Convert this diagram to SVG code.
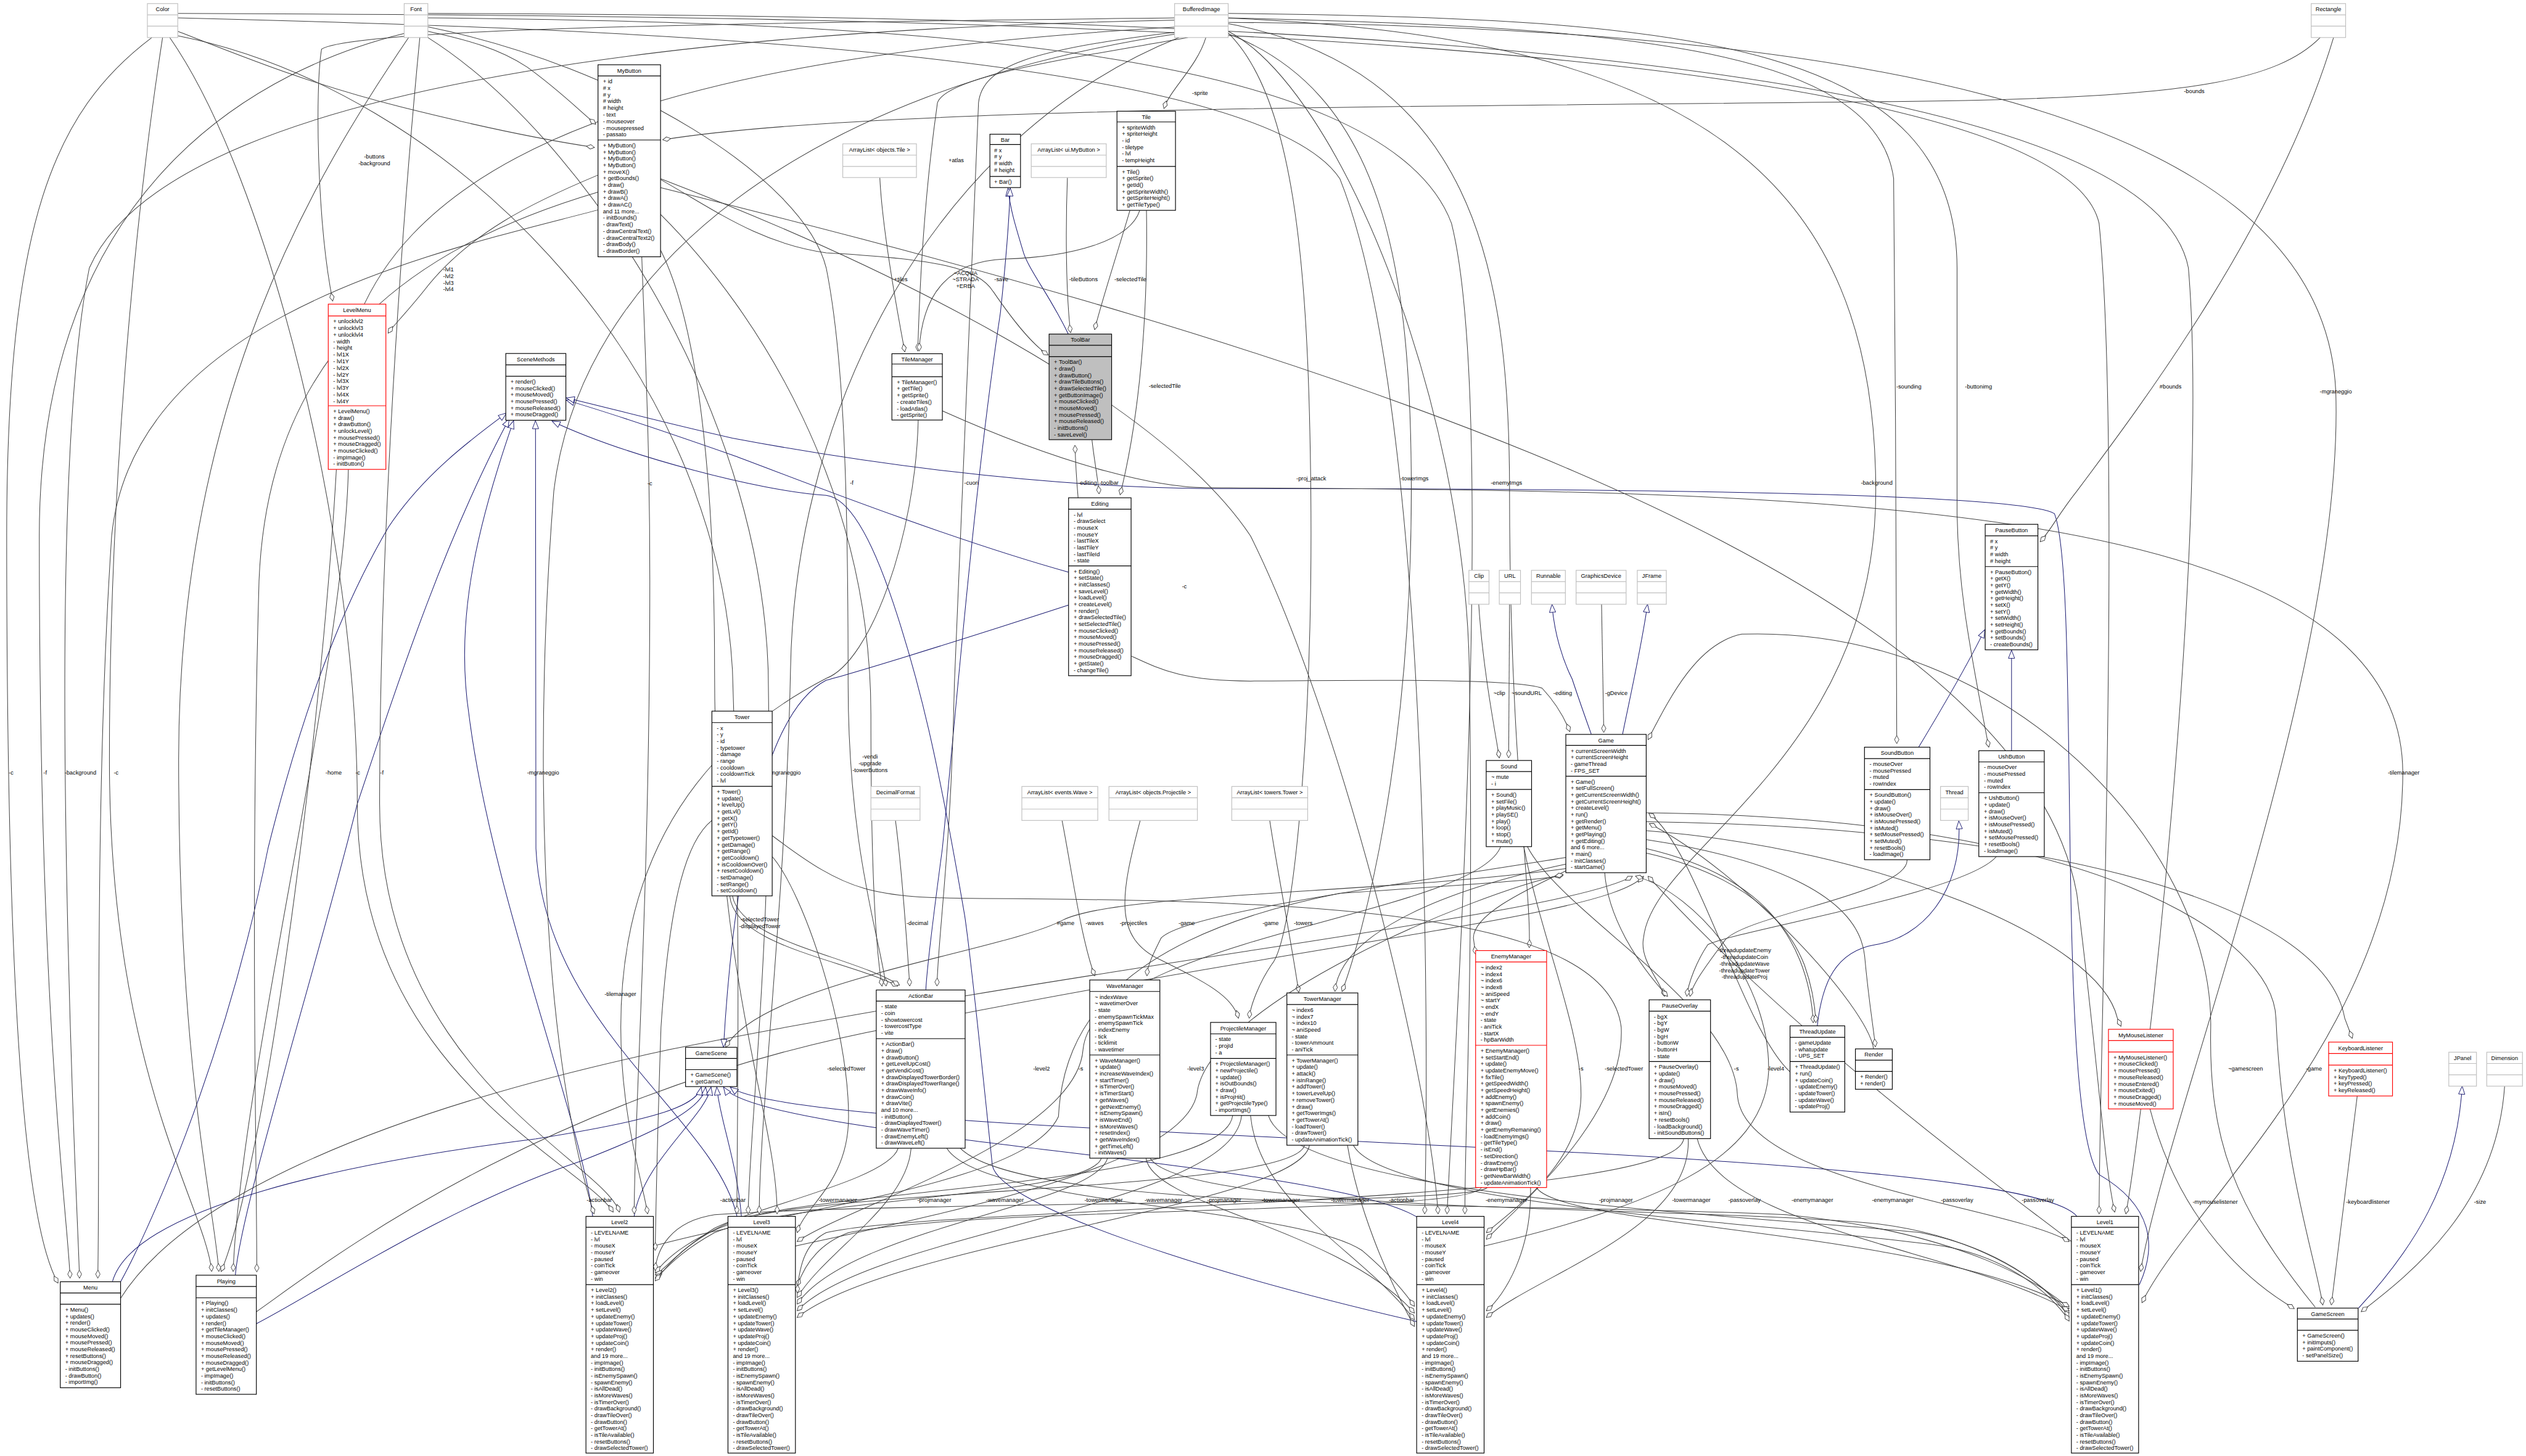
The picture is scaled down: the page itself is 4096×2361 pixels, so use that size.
<svg xmlns="http://www.w3.org/2000/svg" width="4096" height="2361" viewBox="0 0 4096 2361">
<defs>
<style>
.b{fill:#fff;stroke:#000;stroke-width:1.6}
.r{fill:#fff;stroke:#f00;stroke-width:1.6}
.g{fill:#fff;stroke:#bfbfbf;stroke-width:1.6}
.k{fill:#bfbfbf;stroke:#000;stroke-width:1.6}
.sb{stroke:#000;stroke-width:1.6;fill:none}
.sr{stroke:#f00;stroke-width:1.6;fill:none}
.sg{stroke:#bfbfbf;stroke-width:1.6;fill:none}
text{font-family:"Liberation Sans",Arial,Helvetica,sans-serif;font-size:12.8px;fill:#000}
.c{text-anchor:middle}
.e{fill:none;stroke:#404040;stroke-width:1.4;marker-end:url(#d)}
.i{fill:none;stroke:#191970;stroke-width:1.4;marker-end:url(#a)}
</style>
<marker id="d" markerUnits="userSpaceOnUse" markerWidth="20" markerHeight="12" refX="19" refY="6" orient="auto" viewBox="0 0 20 12"><path d="M1,6 L10,1 L19,6 L10,11 Z" fill="#fff" stroke="#404040" stroke-width="1.3"/></marker>
<marker id="a" markerUnits="userSpaceOnUse" markerWidth="20" markerHeight="16" refX="19" refY="8" orient="auto" viewBox="0 0 20 16"><path d="M1,1 L19,8 L1,15 Z" fill="#fff" stroke="#191970" stroke-width="1.3"/></marker>
</defs>
<rect x="0" y="0" width="4096" height="2361" fill="#fff"/>
<g transform="scale(0.7242)">
<g id="connectors">
<!-- inheritance -->
<path class="i" d="M2392,748 C2350,660 2300,600 2290,560 C2275,510 2262,470 2257,421"/>
<path class="i" d="M2073,2216 C2076,2160 2090,2050 2110,1900 C2140,1600 2180,1100 2240,700 C2255,560 2260,480 2262,421"/>
<path class="i" d="M4296,1673 C4340,1600 4400,1500 4444,1410"/>
<path class="i" d="M4504,1681 L4504,1456"/>
<path class="i" d="M4069,2297 C4080,2200 4110,2130 4200,2115 C4300,2100 4395,2000 4386,1838"/>
<path class="i" d="M3563,1644 C3540,1580 3530,1550 3520,1520 C3500,1480 3480,1420 3475,1353"/>
<path class="i" d="M3633,1644 C3650,1560 3675,1450 3689,1353"/>
<path class="i" d="M5281,2929 C5400,2800 5500,2650 5513,2432"/>
<path class="i" d="M270,2870 C320,2780 500,2400 600,1900 C700,1500 800,1300 870,1180 C950,1060 1060,980 1134,925"/>
<path class="i" d="M527,2855 C540,2700 700,2200 800,1800 C900,1500 1000,1200 1140,938"/>
<path class="i" d="M1327,2723 C1300,2500 1100,2000 1050,1600 C1020,1400 1060,1200 1150,942"/>
<path class="i" d="M1650,2723 C1600,2500 1220,2300 1200,1900 L1199,942"/>
<path class="i" d="M2392,1281 C2100,1200 1700,1040 1640,1019 C1500,970 1350,920 1268,896"/>
<path class="i" d="M3172,2959 C2700,2850 2240,2700 2222,2610 C2200,2400 2175,2150 2160,2050 C2100,1700 2060,1530 2000,1350 C1950,1200 1900,1115 1850,1109 C1700,1100 1400,1020 1236,943"/>
<path class="i" d="M4790,2877 C4830,2790 4820,2700 4700,2630 C4600,2500 4660,1300 4600,1150 C4500,1090 3000,1094 2700,1094 C2300,1090 1900,1030 1640,981 C1500,950 1350,910 1268,891"/>
<path class="i" d="M252,2869 C300,2700 800,2600 1200,2550 C1450,2510 1560,2480 1570,2434"/>
<path class="i" d="M574,2964 C700,2900 1000,2700 1300,2600 C1480,2530 1575,2480 1580,2434"/>
<path class="i" d="M1420,2723 C1440,2600 1580,2500 1592,2434"/>
<path class="i" d="M1660,2723 C1650,2600 1610,2500 1605,2434"/>
<path class="i" d="M3180,2730 C3000,2600 1700,2550 1620,2434"/>
<path class="i" d="M4650,2723 C4500,2550 1800,2560 1635,2434"/>
<path class="i" d="M2392,1355 C2100,1450 1900,1510 1850,1523 C1700,1600 1640,2000 1620,2345"/>
<!-- aggregation -->
<path class="e" d="M340,84 C120,250 15,500 15,1200 C15,2300 60,2750 130,2873"/>
<path class="e" d="M905,75 C600,150 88,400 88,1200 C88,2300 150,2700 157,2862"/>
<path class="e" d="M2640,45 C1800,60 400,150 200,600 C140,900 140,1500 150,2000 C160,2500 175,2750 178,2862"/>
<path class="e" d="M364,84 C300,500 245,1100 245,1700 C245,2400 460,2700 474,2847"/>
<path class="e" d="M915,84 C700,400 400,900 400,1700 C400,2400 480,2700 490,2847"/>
<path class="e" d="M1339,470 C1000,560 300,700 250,1200 C210,1800 225,2500 219,2862"/>
<path class="e" d="M780,1051 C770,1500 540,2400 522,2847"/>
<path class="e" d="M1339,430 C900,560 600,800 580,1300 C560,2000 575,2600 575,2848"/>
<path class="e" d="M2640,60 C1600,120 800,300 760,900 C740,1500 600,2600 495,2847"/>
<path class="e" d="M1339,392 C1200,450 1050,520 950,650 C910,700 880,730 869,746"/>
<path class="e" d="M2630,40 C1800,50 800,60 720,110 C705,200 710,500 745,674"/>
<path class="e" d="M398,70 C550,130 700,190 900,240 C1100,290 1250,318 1331,330"/>
<path class="e" d="M958,70 C1050,90 1120,110 1180,150 C1250,200 1300,250 1334,278"/>
<path class="e" d="M5195,84 C5100,180 4900,215 4400,225 C3500,240 2000,230 1484,313"/>
<path class="e" d="M5225,84 C5100,500 4800,900 4650,1100 C4610,1150 4590,1190 4568,1213"/>
<path class="e" d="M2700,84 C2680,150 2620,200 2606,243"/>
<path class="e" d="M2660,84 C2400,130 2120,170 2099,230 C2075,400 2060,600 2055,786"/>
<path class="e" d="M1970,398 C1975,500 2000,650 2026,788"/>
<path class="e" d="M2552,471 C2530,540 2400,575 2250,580 C2130,585 2065,650 2058,786"/>
<path class="e" d="M1479,402 C1600,470 1700,545 1850,566 C2100,580 2190,600 2224,653 C2270,720 2310,770 2347,795"/>
<path class="e" d="M2390,398 C2386,500 2386,650 2397,745"/>
<path class="e" d="M2530,471 C2510,540 2465,680 2451,738"/>
<path class="e" d="M2567,471 C2570,650 2560,900 2508,1108"/>
<path class="e" d="M2445,985 C2450,1030 2458,1070 2461,1106"/>
<path class="e" d="M2414,1115 C2410,1070 2408,1030 2407,997"/>
<path class="e" d="M3311,1353 C3320,1500 3350,1650 3357,1697"/>
<path class="e" d="M3380,1353 L3378,1697"/>
<path class="e" d="M3586,1353 L3591,1640"/>
<path class="e" d="M2533,1469 C2600,1500 2650,1525 2800,1525 C3100,1522 3400,1520 3453,1541 C3480,1570 3500,1600 3515,1638"/>
<path class="e" d="M958,60 C1400,150 1800,400 1850,600 C1890,800 1899,1100 1899,1530 C1899,1900 1970,2100 1984,2208"/>
<path class="e" d="M2650,70 C2300,110 2200,150 2191,230 C2170,800 2145,1300 2137,1530 C2130,1900 2100,2100 2098,2208"/>
<path class="e" d="M1634,2006 C1645,2120 1900,2150 2010,2208"/>
<path class="e" d="M1640,2006 C1660,2110 1910,2140 2014,2206"/>
<path class="e" d="M2005,1837 C2020,1950 2030,2100 2037,2208"/>
<path class="e" d="M1479,480 C1700,700 1950,1100 1950,1600 C1950,2000 1965,2150 1975,2208"/>
<path class="e" d="M2378,1837 C2400,1950 2420,2100 2451,2185"/>
<path class="e" d="M3506,1920 C3000,2000 2650,2050 2600,2100 C2580,2140 2570,2160 2568,2185"/>
<path class="e" d="M3506,1945 C3100,2000 2500,2000 2380,2060 C2250,2130 1700,2200 1625,2345"/>
<path class="e" d="M2553,1837 C2510,2000 2490,2100 2600,2150 C2700,2200 2760,2230 2773,2280"/>
<path class="e" d="M2735,60 C2900,200 2930,600 2935,1100 C2940,1600 2900,2100 2847,2160 C2820,2200 2800,2250 2797,2280"/>
<path class="e" d="M2843,1837 C2860,1950 2890,2100 2908,2222"/>
<path class="e" d="M3506,1935 C3200,2000 3000,2100 2989,2220"/>
<path class="e" d="M2735,70 C3100,200 3160,600 3160,1100 C3160,1700 3050,2100 3005,2220"/>
<path class="e" d="M2735,50 C3300,150 3380,600 3380,1100 C3380,1700 3430,2000 3424,2122"/>
<path class="e" d="M3506,1950 C3400,2000 3300,2050 3299,2100 L3304,2137"/>
<path class="e" d="M2735,40 C3800,80 4200,400 4200,1100 C4200,1700 3700,1900 3680,2100 C3670,2150 3720,2200 3727,2231"/>
<path class="e" d="M3593,1954 C3600,2050 3660,2150 3734,2231"/>
<path class="e" d="M4270,1925 C4275,2000 3900,2050 3861,2107 C3830,2150 3790,2200 3784,2231"/>
<path class="e" d="M4470,1918 C4400,2000 3900,2080 3824,2115 C3800,2150 3780,2200 3777,2231"/>
<path class="e" d="M2750,40 C3600,60 4200,100 4240,400 C4245,800 4245,1300 4247,1665"/>
<path class="e" d="M2750,30 C3800,40 4380,100 4382,600 L4382,1150 C4385,1300 4400,1400 4453,1673"/>
<path class="e" d="M3686,1900 C3900,1950 3990,2050 4030,2150 C4050,2200 4058,2250 4060,2290"/>
<path class="e" d="M3686,1910 C3905,1960 4000,2060 4040,2160 C4058,2210 4064,2250 4066,2290"/>
<path class="e" d="M3686,1880 C3950,1920 4160,2000 4175,2140 C4185,2250 4195,2300 4199,2344"/>
<path class="e" d="M3686,1860 C4200,1900 4700,2100 4741,2280 L4749,2298"/>
<path class="e" d="M3686,1840 C4500,1850 5200,2000 5250,2280 L5267,2325"/>
<path class="e" d="M3686,1820 C4700,1830 5090,2100 5096,2280 C5110,2600 5180,2800 5201,2922"/>
<path class="e" d="M4814,2483 C4870,2700 5000,2850 5137,2930"/>
<path class="e" d="M5278,2454 L5220,2922"/>
<path class="e" d="M5608,2432 C5590,2700 5400,2850 5287,2937"/>
<path class="e" d="M5184,2927 C5000,2700 4945,2550 4950,2300 C4955,1900 4500,1400 3900,1420 C3800,1440 3740,1560 3690,1656"/>
<path class="e" d="M4008,2400 C3900,2300 3800,1900 3692,1821"/>
<path class="e" d="M4195,2348 C4180,2250 3900,1950 3693,1844"/>
<path class="e" d="M270,2907 C400,2700 800,2500 1500,2350 C2500,2150 3500,2050 3655,1962"/>
<path class="e" d="M574,2937 C700,2850 1200,2450 2000,2300 C3000,2100 3600,2050 3680,1962"/>
<path class="e" d="M1463,2790 C1800,2700 2300,2650 2370,2500 C2380,2300 2500,2100 3000,2000 C3300,1980 3450,1970 3500,1960"/>
<path class="e" d="M1781,2790 C2200,2700 2650,2600 2680,2450 C2700,2250 3300,2000 3500,1958"/>
<path class="e" d="M3323,2790 C3700,2700 3950,2600 3960,2400 C3965,2200 3800,2000 3662,1962"/>
<path class="e" d="M4638,2780 C4400,2600 4000,2300 3690,1962"/>
<path class="e" d="M3412,1896 C3450,2100 3540,2300 3540,2450 C3540,2600 3400,2700 3328,2760"/>
<path class="e" d="M3420,1896 C3500,2050 3880,2250 3890,2450 C3900,2650 4500,2700 4633,2780"/>
<path class="e" d="M3360,1896 C3300,2050 2450,2100 2425,2350 C2410,2550 1900,2700 1785,2780"/>
<path class="e" d="M1729,1918 C1800,2000 1900,2300 1900,2500 C1900,2650 1800,2700 1785,2760"/>
<path class="e" d="M1729,1871 C1900,2000 1950,2010 2200,2012 C3000,2015 3600,2050 3630,2300 C3640,2500 3400,2700 3328,2775"/>
<path class="e" d="M1594,1837 C1540,1880 1500,2000 1480,2300 C1470,2600 1468,2750 1467,2800"/>
<path class="e" d="M2011,2571 C1990,2640 1700,2700 1600,2750 C1520,2800 1490,2840 1467,2855"/>
<path class="e" d="M2040,2571 C2030,2700 1850,2800 1785,2905"/>
<path class="e" d="M2120,2571 C2200,2700 2900,2700 3050,2800 C3120,2860 3150,2900 3167,2925"/>
<path class="e" d="M2150,2571 C2300,2720 3400,2690 4000,2720 C4400,2760 4580,2880 4633,2930"/>
<path class="e" d="M2466,2593 C2440,2680 1800,2680 1600,2760 C1510,2810 1485,2850 1467,2862"/>
<path class="e" d="M2480,2593 C2450,2700 1900,2750 1785,2920"/>
<path class="e" d="M2566,2593 C2580,2700 3000,2750 3167,2940"/>
<path class="e" d="M2575,2593 C2650,2720 3800,2700 4200,2740 C4450,2770 4580,2880 4633,2940"/>
<path class="e" d="M2760,2498 C2740,2650 1900,2660 1650,2730 C1530,2780 1490,2840 1467,2868"/>
<path class="e" d="M2780,2498 C2760,2700 1950,2760 1785,2935"/>
<path class="e" d="M2800,2498 C2820,2700 3050,2800 3167,2955"/>
<path class="e" d="M2840,2498 C2900,2680 3900,2720 4300,2760 C4500,2800 4600,2900 4633,2950"/>
<path class="e" d="M2921,2564 C2900,2660 2000,2660 1700,2720 C1550,2760 1490,2820 1467,2850"/>
<path class="e" d="M2932,2564 C2910,2700 2000,2780 1785,2950"/>
<path class="e" d="M3017,2564 C3040,2700 3100,2850 3167,2970"/>
<path class="e" d="M3030,2564 C3100,2700 4000,2740 4350,2790 C4520,2820 4610,2920 4633,2958"/>
<path class="e" d="M3317,2659 C3290,2720 2200,2700 1900,2760 C1820,2790 1795,2850 1785,2880"/>
<path class="e" d="M3330,2659 C3300,2700 2000,2690 1600,2720 C1500,2735 1470,2800 1467,2845"/>
<path class="e" d="M3427,2659 C3430,2800 3370,2900 3328,2935"/>
<path class="e" d="M3440,2659 C3500,2750 4300,2750 4633,2925"/>
<path class="e" d="M3780,2549 C3790,2750 3450,2850 3328,2950"/>
<path class="e" d="M3800,2549 C3850,2750 4400,2800 4633,2935"/>
<path class="e" d="M3770,2549 C3760,2700 2100,2700 1850,2760 C1810,2780 1790,2820 1785,2895"/>
<path class="e" d="M380,84 C600,400 800,1200 800,1800 C800,2400 1300,2600 1373,2714"/>
<path class="e" d="M940,84 C900,500 850,1200 850,1800 C850,2400 1350,2600 1387,2714"/>
<path class="e" d="M2640,75 C1800,200 1300,600 1240,1100 C1200,1600 1200,2300 1330,2718"/>
<path class="e" d="M2640,84 C2100,300 1780,900 1770,1500 C1760,2000 1700,2500 1700,2718"/>
<path class="e" d="M398,80 C1000,200 1600,800 1640,1500 C1660,2100 1650,2500 1650,2718"/>
<path class="e" d="M958,84 C1300,300 1700,900 1720,1500 C1730,2100 1680,2500 1675,2718"/>
<path class="e" d="M1437,575 C1445,800 1455,1000 1455,1300 C1455,2000 1420,2500 1420,2718"/>
<path class="e" d="M1479,560 C1550,700 1600,1000 1600,1500 C1600,2200 1740,2500 1740,2718"/>
<path class="e" d="M1479,400 C2000,600 2600,900 2800,1200 C3000,1600 3200,2400 3220,2718"/>
<path class="e" d="M1479,420 C2600,700 4500,1200 4650,2000 C4700,2400 4710,2600 4735,2714"/>
<path class="e" d="M398,40 C1200,60 2800,100 3000,400 C3200,900 3200,2300 3190,2718"/>
<path class="e" d="M958,40 C2000,50 3100,100 3250,500 C3350,900 3260,2300 3240,2718"/>
<path class="e" d="M2750,70 C3000,200 3280,900 3290,1500 C3300,2200 3280,2500 3280,2718"/>
<path class="e" d="M398,30 C2000,35 4600,60 4700,500 C4750,1000 4700,2400 4700,2718"/>
<path class="e" d="M958,30 C2500,35 4800,80 4900,600 C4950,1200 4800,2500 4760,2718"/>
<path class="e" d="M2750,50 C4000,60 5200,200 5230,877 C5250,1500 4850,2500 4793,2847"/>
<path class="e" d="M2110,920 C2400,1050 2600,1092 2700,1092 C4000,1100 5380,1100 5380,1731 C5380,2300 4900,2700 4796,2917"/>
<path class="e" d="M2056,940 C2050,1200 1950,1480 1850,1519 C1500,1700 1390,2000 1390,2300 C1390,2500 1440,2650 1450,2718"/>
<!-- edge labels -->
<text class="c" x="838" y="355">-buttons</text><text class="c" x="838" y="370">-background</text>
<text class="c" x="1004" y="608">-lvl1</text><text class="c" x="1004" y="623">-lvl2</text><text class="c" x="1004" y="638">-lvl3</text><text class="c" x="1004" y="652">-lvl4</text>
<text class="c" x="1455" y="1087">-c</text>
<text class="c" x="2141" y="363">+atlas</text>
<text class="c" x="2017" y="630">+tiles</text>
<text class="c" x="2162" y="616">~ACQUA</text><text class="c" x="2162" y="630">~STRADA</text><text class="c" x="2162" y="645">+ERBA</text>
<text class="c" x="2242" y="630">-save</text>
<text class="c" x="2426" y="630">-tileButtons</text>
<text class="c" x="2531" y="630">-selectedTile</text>
<text class="c" x="2608" y="869">-selectedTile</text>
<text class="c" x="1907" y="1086">-f</text>
<text class="c" x="2175" y="1086">-cuori</text>
<text class="c" x="2435" y="1086">-editing</text>
<text class="c" x="2483" y="1086">-toolbar</text>
<text class="c" x="2652" y="1318">-c</text>
<text class="c" x="3357" y="1556">~clip</text>
<text class="c" x="3418" y="1556">~soundURL</text>
<text class="c" x="3499" y="1556">-editing</text>
<text class="c" x="3619" y="1556">-gDevice</text>
<text class="c" x="1701" y="2063">-selectedTower</text><text class="c" x="1701" y="2078">-displayedTower</text>
<text class="c" x="2054" y="2071">-decimal</text>
<text class="c" x="2386" y="2071">#game</text>
<text class="c" x="2451" y="2071">-waves</text>
<text class="c" x="2538" y="2071">-projectiles</text>
<text class="c" x="2657" y="2071">-game</text>
<text class="c" x="2845" y="2071">-game</text>
<text class="c" x="2918" y="2071">-towers</text>
<text class="c" x="1895" y="2397">-selectedTower</text>
<text class="c" x="2332" y="2397">-level2</text>
<text class="c" x="2420" y="2397">-s</text>
<text class="c" x="2677" y="2397">-level3</text>
<text class="c" x="3540" y="2397">-s</text>
<text class="c" x="3636" y="2397">-selectedTower</text>
<text class="c" x="3888" y="2397">-s</text>
<text class="c" x="3976" y="2397">-level4</text>
<text class="c" x="5028" y="2397">~gamescreen</text>
<text class="c" x="5181" y="2397">-game</text>
<text class="c" x="4960" y="2695">-mymouselistener</text>
<text class="c" x="5302" y="2695">-keyboardlistener</text>
<text class="c" x="5553" y="2695">-size</text>
<text class="c" x="25" y="1735">-c</text>
<text class="c" x="101" y="1735">-f</text>
<text class="c" x="180" y="1735">-background</text>
<text class="c" x="260" y="1735">-c</text>
<text class="c" x="747" y="1735">-home</text>
<text class="c" x="801" y="1735">-c</text>
<text class="c" x="855" y="1735">-f</text>
<text class="c" x="1216" y="1735">-mgraneggio</text>
<text class="c" x="1757" y="1735">-mgraneggio</text>
<text class="c" x="1948" y="1699">-vendi</text><text class="c" x="1948" y="1714">-upgrade</text><text class="c" x="1948" y="1729">-towerButtons</text>
<text class="c" x="1389" y="2230">-tilemanager</text>
<text class="c" x="2936" y="1075">-proj_attack</text>
<text class="c" x="3167" y="1075">-towerImgs</text>
<text class="c" x="3373" y="1086">-enemyImgs</text>
<text class="c" x="4202" y="1086">-background</text>
<text class="c" x="4274" y="870">-sounding</text>
<text class="c" x="4430" y="870">-buttonimg</text>
<text class="c" x="4860" y="870">#bounds</text>
<text class="c" x="4913" y="209">-bounds</text>
<text class="c" x="2687" y="213">-sprite</text>
<text class="c" x="5230" y="881">-mgraneggio</text>
<text class="c" x="5382" y="1735">-tilemanager</text>
<text class="c" x="3906" y="2132">-threadupdateEnemy</text><text class="c" x="3906" y="2147">-threadupdateCoin</text><text class="c" x="3906" y="2162">-threadupdateWave</text><text class="c" x="3906" y="2177">-threadupdateTower</text><text class="c" x="3906" y="2192">-threadupdateProj</text>
<text class="c" x="1342" y="2691">-actionbar</text>
<text class="c" x="1641" y="2691">-actionbar</text>
<text class="c" x="1876" y="2691">-towermanager</text>
<text class="c" x="2092" y="2691">-projmanager</text>
<text class="c" x="2250" y="2691">-wavemanager</text>
<text class="c" x="2471" y="2691">-towermanager</text>
<text class="c" x="2605" y="2691">-wavemanager</text>
<text class="c" x="2741" y="2691">-projmanager</text>
<text class="c" x="2868" y="2691">-towermanager</text>
<text class="c" x="3023" y="2691">-towermanager</text>
<text class="c" x="3138" y="2691">-actionbar</text>
<text class="c" x="3373" y="2691">-enemymanager</text>
<text class="c" x="3618" y="2691">-projmanager</text>
<text class="c" x="3787" y="2691">-towermanager</text>
<text class="c" x="3906" y="2691">-passoverlay</text>
<text class="c" x="4058" y="2691">-enemymanager</text>
<text class="c" x="4238" y="2691">-enemymanager</text>
<text class="c" x="4382" y="2691">-passoverlay</text>
<text class="c" x="4563" y="2691">-passoverlay</text>
</g>

<!-- external classes -->
<g id="Color"><rect class="g" x="330" y="8" width="68" height="76"/><path class="sg" d="M330,33.3H398M330,58.6H398"/><text class="c" x="364" y="25.5">Color</text></g>
<g id="Font"><rect class="g" x="905" y="8" width="53" height="76"/><path class="sg" d="M905,33.3H958M905,58.6H958"/><text class="c" x="931.5" y="25.5">Font</text></g>
<g id="BufferedImage"><rect class="g" x="2630" y="8" width="120" height="76"/><path class="sg" d="M2630,33.3H2750M2630,58.6H2750"/><text class="c" x="2690" y="25.5">BufferedImage</text></g>
<g id="Rectangle"><rect class="g" x="5175" y="8" width="77" height="76"/><path class="sg" d="M5175,33.3H5252M5175,58.6H5252"/><text class="c" x="5213.5" y="25.5">Rectangle</text></g>
<g id="ArrayListTile"><rect class="g" x="1887" y="322" width="165" height="75.5"/><path class="sg" d="M1887,347.3H2052M1887,372.6H2052"/><text class="c" x="1969.5" y="339.5">ArrayList&lt; objects.Tile &gt;</text></g>
<g id="ArrayListMyButton"><rect class="g" x="2309" y="322" width="168" height="75.5"/><path class="sg" d="M2309,347.3H2477M2309,372.6H2477"/><text class="c" x="2393" y="339.5">ArrayList&lt; ui.MyButton &gt;</text></g>
<g id="Clip"><rect class="g" x="3289" y="1277" width="45" height="76"/><path class="sg" d="M3289,1302.3H3334M3289,1327.6H3334"/><text class="c" x="3311.5" y="1294.5">Clip</text></g>
<g id="URL"><rect class="g" x="3357" y="1277" width="47.5" height="76"/><path class="sg" d="M3357,1302.3H3404.5M3357,1327.6H3404.5"/><text class="c" x="3380.7" y="1294.5">URL</text></g>
<g id="Runnable"><rect class="g" x="3429" y="1277" width="76" height="76"/><path class="sg" d="M3429,1302.3H3505M3429,1327.6H3505"/><text class="c" x="3467" y="1294.5">Runnable</text></g>
<g id="GraphicsDevice"><rect class="g" x="3529" y="1277" width="112" height="76"/><path class="sg" d="M3529,1302.3H3641M3529,1327.6H3641"/><text class="c" x="3585" y="1294.5">GraphicsDevice</text></g>
<g id="JFrame"><rect class="g" x="3666" y="1277" width="65" height="76"/><path class="sg" d="M3666,1302.3H3731M3666,1327.6H3731"/><text class="c" x="3698.5" y="1294.5">JFrame</text></g>
<g id="DecimalFormat"><rect class="g" x="1950" y="1761" width="110" height="76"/><path class="sg" d="M1950,1786.3H2060M1950,1811.6H2060"/><text class="c" x="2005" y="1778.5">DecimalFormat</text></g>
<g id="ArrayListWave"><rect class="g" x="2288" y="1761" width="170" height="76"/><path class="sg" d="M2288,1786.3H2458M2288,1811.6H2458"/><text class="c" x="2373" y="1778.5">ArrayList&lt; events.Wave &gt;</text></g>
<g id="ArrayListProjectile"><rect class="g" x="2483" y="1761" width="198" height="76"/><path class="sg" d="M2483,1786.3H2681M2483,1811.6H2681"/><text class="c" x="2582" y="1778.5">ArrayList&lt; objects.Projectile &gt;</text></g>
<g id="ArrayListTower"><rect class="g" x="2758" y="1761" width="170" height="76"/><path class="sg" d="M2758,1786.3H2928M2758,1811.6H2928"/><text class="c" x="2843" y="1778.5">ArrayList&lt; towers.Tower &gt;</text></g>
<g id="Thread"><rect class="g" x="4345" y="1761" width="62" height="76"/><path class="sg" d="M4345,1786.3H4407M4345,1811.6H4407"/><text class="c" x="4376" y="1778.5">Thread</text></g>
<g id="JPanel"><rect class="g" x="5483" y="2356" width="62" height="76"/><path class="sg" d="M5483,2381.3H5545M5483,2406.6H5545"/><text class="c" x="5514" y="2373.5">JPanel</text></g>
<g id="Dimension"><rect class="g" x="5568" y="2356" width="80" height="76"/><path class="sg" d="M5568,2381.3H5648M5568,2406.6H5648"/><text class="c" x="5608" y="2373.5">Dimension</text></g>

<!-- classes -->
<g id="MyButton"><rect class="b" x="1339" y="145" width="140" height="430"/><path class="sb" d="M1339,170H1479M1339,313.5H1479"/><text class="c" x="1409" y="162.5">MyButton</text>
<text x="1350" y="186.5"><tspan x="1350">+ id</tspan><tspan x="1350" dy="14.9"># x</tspan><tspan x="1350" dy="14.9"># y</tspan><tspan x="1350" dy="14.9"># width</tspan><tspan x="1350" dy="14.9"># height</tspan><tspan x="1350" dy="14.9">- text</tspan><tspan x="1350" dy="14.9">- mouseover</tspan><tspan x="1350" dy="14.9">- mousepressed</tspan><tspan x="1350" dy="14.9">- passato</tspan></text>
<text x="1350" y="330"><tspan x="1350">+ MyButton()</tspan><tspan x="1350" dy="14.75">+ MyButton()</tspan><tspan x="1350" dy="14.75">+ MyButton()</tspan><tspan x="1350" dy="14.75">+ MyButton()</tspan><tspan x="1350" dy="14.75">+ moveX()</tspan><tspan x="1350" dy="14.75">+ getBounds()</tspan><tspan x="1350" dy="14.75">+ draw()</tspan><tspan x="1350" dy="14.75">+ drawB()</tspan><tspan x="1350" dy="14.75">+ drawA()</tspan><tspan x="1350" dy="14.75">+ drawAC()</tspan><tspan x="1350" dy="14.75">and 11 more...</tspan><tspan x="1350" dy="14.75">- initBounds()</tspan><tspan x="1350" dy="14.75">- drawText()</tspan><tspan x="1350" dy="14.75">- drawCentralText()</tspan><tspan x="1350" dy="14.75">- drawCentralText2()</tspan><tspan x="1350" dy="14.75">- drawBody()</tspan><tspan x="1350" dy="14.75">- drawBorder()</tspan></text></g>

<g id="LevelMenu"><rect class="r" x="735" y="681" width="129" height="370"/><path class="sr" d="M735,707.5H864M735,908.6H864"/><text class="c" x="799.5" y="698.5">LevelMenu</text>
<text x="746" y="724"><tspan x="746">+ unlocklvl2</tspan><tspan x="746" dy="14.9">+ unlocklvl3</tspan><tspan x="746" dy="14.9">+ unlocklvl4</tspan><tspan x="746" dy="14.9">- width</tspan><tspan x="746" dy="14.9">- height</tspan><tspan x="746" dy="14.9">- lvl1X</tspan><tspan x="746" dy="14.9">- lvl1Y</tspan><tspan x="746" dy="14.9">- lvl2X</tspan><tspan x="746" dy="14.9">- lvl2Y</tspan><tspan x="746" dy="14.9">- lvl3X</tspan><tspan x="746" dy="14.9">- lvl3Y</tspan><tspan x="746" dy="14.9">- lvl4X</tspan><tspan x="746" dy="14.9">- lvl4Y</tspan></text>
<text x="746" y="925"><tspan x="746">+ LevelMenu()</tspan><tspan x="746" dy="14.75">+ draw()</tspan><tspan x="746" dy="14.75">+ drawButton()</tspan><tspan x="746" dy="14.75">+ unlockLevel()</tspan><tspan x="746" dy="14.75">+ mousePressed()</tspan><tspan x="746" dy="14.75">+ mouseDragged()</tspan><tspan x="746" dy="14.75">+ mouseClicked()</tspan><tspan x="746" dy="14.75">- impImage()</tspan><tspan x="746" dy="14.75">- initButton()</tspan></text></g>

<g id="SceneMethods"><rect class="b" x="1132.5" y="791.5" width="134.5" height="149.5"/><path class="sb" d="M1132.5,817H1267M1132.5,842.5H1267"/><text class="c" x="1199.75" y="809">SceneMethods</text>
<text x="1143" y="859"><tspan x="1143">+ render()</tspan><tspan x="1143" dy="14.75">+ mouseClicked()</tspan><tspan x="1143" dy="14.75">+ mouseMoved()</tspan><tspan x="1143" dy="14.75">+ mousePressed()</tspan><tspan x="1143" dy="14.75">+ mouseReleased()</tspan><tspan x="1143" dy="14.75">+ mouseDragged()</tspan></text></g>

<g id="Bar"><rect class="b" x="2216.5" y="300.5" width="68.5" height="119.5"/><path class="sb" d="M2216.5,323.7H2285M2216.5,395H2285"/><text class="c" x="2250.75" y="318">Bar</text>
<text x="2226" y="340.5"><tspan x="2226"># x</tspan><tspan x="2226" dy="14.9"># y</tspan><tspan x="2226" dy="14.9"># width</tspan><tspan x="2226" dy="14.9"># height</tspan></text>
<text x="2226" y="411.5">+ Bar()</text></g>

<g id="Tile"><rect class="b" x="2501" y="249" width="131" height="222"/><path class="sb" d="M2501,273H2632M2501,372.6H2632"/><text class="c" x="2566.5" y="266.5">Tile</text>
<text x="2512" y="289.5"><tspan x="2512">+ spriteWidth</tspan><tspan x="2512" dy="14.75">+ spriteHeight</tspan><tspan x="2512" dy="14.75">- id</tspan><tspan x="2512" dy="14.75">- tiletype</tspan><tspan x="2512" dy="14.75">- lvl</tspan><tspan x="2512" dy="14.75">- tempHeight</tspan></text>
<text x="2512" y="389"><tspan x="2512">+ Tile()</tspan><tspan x="2512" dy="14.75">+ getSprite()</tspan><tspan x="2512" dy="14.75">+ getId()</tspan><tspan x="2512" dy="14.75">+ getSpriteWidth()</tspan><tspan x="2512" dy="14.75">+ getSpriteHeight()</tspan><tspan x="2512" dy="14.75">+ getTileType()</tspan></text></g>

<g id="ToolBar"><rect class="k" x="2349" y="748" width="140" height="236.5"/><path class="sb" d="M2349,773H2489M2349,798.7H2489"/><text class="c" x="2419" y="765.5">ToolBar</text>
<text x="2360" y="815"><tspan x="2360">+ ToolBar()</tspan><tspan x="2360" dy="14.75">+ draw()</tspan><tspan x="2360" dy="14.75">+ drawButton()</tspan><tspan x="2360" dy="14.75">+ drawTileButtons()</tspan><tspan x="2360" dy="14.75">+ drawSelectedTile()</tspan><tspan x="2360" dy="14.75">+ getButtonImage()</tspan><tspan x="2360" dy="14.75">+ mouseClicked()</tspan><tspan x="2360" dy="14.75">+ mouseMoved()</tspan><tspan x="2360" dy="14.75">+ mousePressed()</tspan><tspan x="2360" dy="14.75">+ mouseReleased()</tspan><tspan x="2360" dy="14.75">- initButtons()</tspan><tspan x="2360" dy="14.75">- saveLevel()</tspan></text></g>

<g id="TileManager"><rect class="b" x="1997" y="792" width="113" height="148.5"/><path class="sb" d="M1997,815H2110M1997,843.5H2110"/><text class="c" x="2053.5" y="808.5">TileManager</text>
<text x="2008" y="860"><tspan x="2008">+ TileManager()</tspan><tspan x="2008" dy="14.75">+ getTile()</tspan><tspan x="2008" dy="14.75">+ getSprite()</tspan><tspan x="2008" dy="14.75">- createTiles()</tspan><tspan x="2008" dy="14.75">- loadAtlas()</tspan><tspan x="2008" dy="14.75">- getSprite()</tspan></text></g>

<g id="Editing"><rect class="b" x="2392.6" y="1114.6" width="140" height="398.4"/><path class="sb" d="M2392.6,1140H2532.6M2392.6,1267H2532.6"/><text class="c" x="2462.6" y="1132">Editing</text>
<text x="2404" y="1156.5"><tspan x="2404">- lvl</tspan><tspan x="2404" dy="14.75">- drawSelect</tspan><tspan x="2404" dy="14.75">- mouseX</tspan><tspan x="2404" dy="14.75">- mouseY</tspan><tspan x="2404" dy="14.75">- lastTileX</tspan><tspan x="2404" dy="14.75">- lastTileY</tspan><tspan x="2404" dy="14.75">- lastTileId</tspan><tspan x="2404" dy="14.75">- state</tspan></text>
<text x="2404" y="1283.5"><tspan x="2404">+ Editing()</tspan><tspan x="2404" dy="14.75">+ setState()</tspan><tspan x="2404" dy="14.75">+ initClasses()</tspan><tspan x="2404" dy="14.75">+ saveLevel()</tspan><tspan x="2404" dy="14.75">+ loadLevel()</tspan><tspan x="2404" dy="14.75">+ createLevel()</tspan><tspan x="2404" dy="14.75">+ render()</tspan><tspan x="2404" dy="14.75">+ drawSelectedTile()</tspan><tspan x="2404" dy="14.75">+ setSelectedTile()</tspan><tspan x="2404" dy="14.75">+ mouseClicked()</tspan><tspan x="2404" dy="14.75">+ mouseMoved()</tspan><tspan x="2404" dy="14.75">+ mousePressed()</tspan><tspan x="2404" dy="14.75">+ mouseReleased()</tspan><tspan x="2404" dy="14.75">+ mouseDragged()</tspan><tspan x="2404" dy="14.75">+ getState()</tspan><tspan x="2404" dy="14.75">- changeTile()</tspan></text></g>

<g id="PauseButton"><rect class="b" x="4445" y="1174" width="118" height="281"/><path class="sb" d="M4445,1199.7H4563M4445,1268.7H4563"/><text class="c" x="4504" y="1191.5">PauseButton</text>
<text x="4456" y="1216"><tspan x="4456"># x</tspan><tspan x="4456" dy="14.75"># y</tspan><tspan x="4456" dy="14.75"># width</tspan><tspan x="4456" dy="14.75"># height</tspan></text>
<text x="4456" y="1285"><tspan x="4456">+ PauseButton()</tspan><tspan x="4456" dy="14.75">+ getX()</tspan><tspan x="4456" dy="14.75">+ getY()</tspan><tspan x="4456" dy="14.75">+ getWidth()</tspan><tspan x="4456" dy="14.75">+ getHeight()</tspan><tspan x="4456" dy="14.75">+ setX()</tspan><tspan x="4456" dy="14.75">+ setY()</tspan><tspan x="4456" dy="14.75">+ setWidth()</tspan><tspan x="4456" dy="14.75">+ setHeight()</tspan><tspan x="4456" dy="14.75">+ getBounds()</tspan><tspan x="4456" dy="14.75">+ setBounds()</tspan><tspan x="4456" dy="14.75">- createBounds()</tspan></text></g>

<g id="Sound"><rect class="b" x="3327.7" y="1702.8" width="101.6" height="192.9"/><path class="sb" d="M3327.7,1727.7H3429.3M3327.7,1767.6H3429.3"/><text class="c" x="3378.5" y="1720.3">Sound</text>
<text x="3339" y="1744"><tspan x="3339">~ mute</tspan><tspan x="3339" dy="14.75">- i</tspan></text>
<text x="3339" y="1784"><tspan x="3339">+ Sound()</tspan><tspan x="3339" dy="14.75">+ setFile()</tspan><tspan x="3339" dy="14.75">+ playMusic()</tspan><tspan x="3339" dy="14.75">+ playSE()</tspan><tspan x="3339" dy="14.75">+ play()</tspan><tspan x="3339" dy="14.75">+ loop()</tspan><tspan x="3339" dy="14.75">+ stop()</tspan><tspan x="3339" dy="14.75">+ mute()</tspan></text></g>

<g id="Game"><rect class="b" x="3506" y="1644.4" width="180" height="309.7"/><path class="sb" d="M3506,1668.9H3686M3506,1738H3686"/><text class="c" x="3596" y="1662">Game</text>
<text x="3517" y="1685.4"><tspan x="3517">+ currentScreenWidth</tspan><tspan x="3517" dy="14.75">+ currentScreenHeight</tspan><tspan x="3517" dy="14.75">- gameThread</tspan><tspan x="3517" dy="14.75">- FPS_SET</tspan></text>
<text x="3517" y="1754.5"><tspan x="3517">+ Game()</tspan><tspan x="3517" dy="14.75">+ setFullScreen()</tspan><tspan x="3517" dy="14.75">+ getCurrentScreenWidth()</tspan><tspan x="3517" dy="14.75">+ getCurrentScreenHeight()</tspan><tspan x="3517" dy="14.75">+ createLevel()</tspan><tspan x="3517" dy="14.75">+ run()</tspan><tspan x="3517" dy="14.75">+ getRender()</tspan><tspan x="3517" dy="14.75">+ getMenu()</tspan><tspan x="3517" dy="14.75">+ getPlaying()</tspan><tspan x="3517" dy="14.75">+ getEditing()</tspan><tspan x="3517" dy="14.75">and 6 more...</tspan><tspan x="3517" dy="14.75">+ main()</tspan><tspan x="3517" dy="14.75">- InitClasses()</tspan><tspan x="3517" dy="14.75">- startGame()</tspan></text></g>

<g id="SoundButton"><rect class="b" x="4174.7" y="1673" width="146.6" height="252"/><path class="sb" d="M4174.7,1698.6H4321.3M4174.7,1768H4321.3"/><text class="c" x="4248" y="1690.5">SoundButton</text>
<text x="4186" y="1715"><tspan x="4186">- mouseOver</tspan><tspan x="4186" dy="14.75">- mousePressed</tspan><tspan x="4186" dy="14.75">- muted</tspan><tspan x="4186" dy="14.75">- rowIndex</tspan></text>
<text x="4186" y="1784.5"><tspan x="4186">+ SoundButton()</tspan><tspan x="4186" dy="14.75">+ update()</tspan><tspan x="4186" dy="14.75">+ draw()</tspan><tspan x="4186" dy="14.75">+ isMouseOver()</tspan><tspan x="4186" dy="14.75">+ isMousePressed()</tspan><tspan x="4186" dy="14.75">+ isMuted()</tspan><tspan x="4186" dy="14.75">+ setMousePressed()</tspan><tspan x="4186" dy="14.75">+ setMuted()</tspan><tspan x="4186" dy="14.75">+ resetBools()</tspan><tspan x="4186" dy="14.75">- loadImage()</tspan></text></g>

<g id="UshButton"><rect class="b" x="4430.7" y="1681" width="146.6" height="237"/><path class="sb" d="M4430.7,1706H4577.3M4430.7,1775H4577.3"/><text class="c" x="4504" y="1698.5">UshButton</text>
<text x="4442" y="1722.5"><tspan x="4442">- mouseOver</tspan><tspan x="4442" dy="14.75">- mousePressed</tspan><tspan x="4442" dy="14.75">- muted</tspan><tspan x="4442" dy="14.75">- rowIndex</tspan></text>
<text x="4442" y="1791.5"><tspan x="4442">+ UshButton()</tspan><tspan x="4442" dy="14.75">+ update()</tspan><tspan x="4442" dy="14.75">+ draw()</tspan><tspan x="4442" dy="14.75">+ isMouseOver()</tspan><tspan x="4442" dy="14.75">+ isMousePressed()</tspan><tspan x="4442" dy="14.75">+ isMuted()</tspan><tspan x="4442" dy="14.75">+ setMousePressed()</tspan><tspan x="4442" dy="14.75">+ resetBools()</tspan><tspan x="4442" dy="14.75">- loadImage()</tspan></text></g>

<g id="Tower"><rect class="b" x="1594" y="1592.3" width="135" height="413.7"/><path class="sb" d="M1594,1618H1729M1594,1760.7H1729"/><text class="c" x="1661.5" y="1610">Tower</text>
<text x="1605" y="1634.5"><tspan x="1605">- x</tspan><tspan x="1605" dy="14.75">- y</tspan><tspan x="1605" dy="14.75">- id</tspan><tspan x="1605" dy="14.75">- typetower</tspan><tspan x="1605" dy="14.75">- damage</tspan><tspan x="1605" dy="14.75">- range</tspan><tspan x="1605" dy="14.75">- cooldown</tspan><tspan x="1605" dy="14.75">- cooldownTick</tspan><tspan x="1605" dy="14.75">- lvl</tspan></text>
<text x="1605" y="1777.2"><tspan x="1605">+ Tower()</tspan><tspan x="1605" dy="14.75">+ update()</tspan><tspan x="1605" dy="14.75">+ levelUp()</tspan><tspan x="1605" dy="14.75">+ getLvl()</tspan><tspan x="1605" dy="14.75">+ getX()</tspan><tspan x="1605" dy="14.75">+ getY()</tspan><tspan x="1605" dy="14.75">+ getId()</tspan><tspan x="1605" dy="14.75">+ getTypetower()</tspan><tspan x="1605" dy="14.75">+ getDamage()</tspan><tspan x="1605" dy="14.75">+ getRange()</tspan><tspan x="1605" dy="14.75">+ getCooldown()</tspan><tspan x="1605" dy="14.75">+ isCooldownOver()</tspan><tspan x="1605" dy="14.75">+ resetCooldown()</tspan><tspan x="1605" dy="14.75">- setDamage()</tspan><tspan x="1605" dy="14.75">- setRange()</tspan><tspan x="1605" dy="14.75">- setCooldown()</tspan></text></g>

<g id="ActionBar"><rect class="b" x="1962" y="2216.7" width="199" height="354.3"/><path class="sb" d="M1962,2241.7H2161M1962,2325.7H2161"/><text class="c" x="2061.5" y="2234.2">ActionBar</text>
<text x="1973" y="2258.2"><tspan x="1973">- state</tspan><tspan x="1973" dy="14.75">- coin</tspan><tspan x="1973" dy="14.75">- showtowercost</tspan><tspan x="1973" dy="14.75">- towercostType</tspan><tspan x="1973" dy="14.75">- vite</tspan></text>
<text x="1973" y="2342.2"><tspan x="1973">+ ActionBar()</tspan><tspan x="1973" dy="14.75">+ draw()</tspan><tspan x="1973" dy="14.75">+ drawButton()</tspan><tspan x="1973" dy="14.75">+ getLevelUpCost()</tspan><tspan x="1973" dy="14.75">+ getVendiCost()</tspan><tspan x="1973" dy="14.75">+ drawDisplayedTowerBorder()</tspan><tspan x="1973" dy="14.75">+ drawDisplayedTowerRange()</tspan><tspan x="1973" dy="14.75">+ drawWaveInfo()</tspan><tspan x="1973" dy="14.75">+ drawCoin()</tspan><tspan x="1973" dy="14.75">+ drawVite()</tspan><tspan x="1973" dy="14.75">and 10 more...</tspan><tspan x="1973" dy="14.75">- initButton()</tspan><tspan x="1973" dy="14.75">- drawDiaplayedTower()</tspan><tspan x="1973" dy="14.75">- drawWaveTimer()</tspan><tspan x="1973" dy="14.75">- drawEnemyLeft()</tspan><tspan x="1973" dy="14.75">- drawWaveLeft()</tspan></text></g>

<g id="WaveManager"><rect class="b" x="2440" y="2194.3" width="157" height="399"/><path class="sb" d="M2440,2220H2597M2440,2362.3H2597"/><text class="c" x="2518.5" y="2211.8">WaveManager</text>
<text x="2451" y="2236.5"><tspan x="2451">~ indexWave</tspan><tspan x="2451" dy="14.75">~ wavetimerOver</tspan><tspan x="2451" dy="14.75">- state</tspan><tspan x="2451" dy="14.75">- enemySpawnTickMax</tspan><tspan x="2451" dy="14.75">- enemySpawnTick</tspan><tspan x="2451" dy="14.75">- indexEnemy</tspan><tspan x="2451" dy="14.75">- tick</tspan><tspan x="2451" dy="14.75">- ticklimit</tspan><tspan x="2451" dy="14.75">- wavetimer</tspan></text>
<text x="2451" y="2378.8"><tspan x="2451">+ WaveManager()</tspan><tspan x="2451" dy="14.75">+ update()</tspan><tspan x="2451" dy="14.75">+ increaseWaveIndex()</tspan><tspan x="2451" dy="14.75">+ startTimer()</tspan><tspan x="2451" dy="14.75">+ isTimerOver()</tspan><tspan x="2451" dy="14.75">+ isTimerStart()</tspan><tspan x="2451" dy="14.75">+ getWaves()</tspan><tspan x="2451" dy="14.75">+ getNextEnemy()</tspan><tspan x="2451" dy="14.75">+ isEnemySpawn()</tspan><tspan x="2451" dy="14.75">+ isWaveEnd()</tspan><tspan x="2451" dy="14.75">+ isMoreWaves()</tspan><tspan x="2451" dy="14.75">+ resetIndex()</tspan><tspan x="2451" dy="14.75">+ getWaveIndex()</tspan><tspan x="2451" dy="14.75">+ getTimeLeft()</tspan><tspan x="2451" dy="14.75">- initWaves()</tspan></text></g>

<g id="ProjectileManager"><rect class="b" x="2710.5" y="2289.3" width="146.5" height="208.4"/><path class="sb" d="M2710.5,2315H2857M2710.5,2370H2857"/><text class="c" x="2783.75" y="2306.8">ProjectileManager</text>
<text x="2721" y="2331.5"><tspan x="2721">- state</tspan><tspan x="2721" dy="14.75">- projId</tspan><tspan x="2721" dy="14.75">- a</tspan></text>
<text x="2721" y="2386.5"><tspan x="2721">+ ProjectileManager()</tspan><tspan x="2721" dy="14.75">+ newProjectile()</tspan><tspan x="2721" dy="14.75">+ update()</tspan><tspan x="2721" dy="14.75">+ isOutBounds()</tspan><tspan x="2721" dy="14.75">+ draw()</tspan><tspan x="2721" dy="14.75">+ isProjHit()</tspan><tspan x="2721" dy="14.75">+ getProjectileType()</tspan><tspan x="2721" dy="14.75">- importImgs()</tspan></text></g>

<g id="TowerManager"><rect class="b" x="2881.4" y="2223.3" width="159" height="341"/><path class="sb" d="M2881.4,2249.3H3040.4M2881.4,2362.3H3040.4"/><text class="c" x="2961" y="2240.8">TowerManager</text>
<text x="2892" y="2265.8"><tspan x="2892">~ index6</tspan><tspan x="2892" dy="14.75">~ index7</tspan><tspan x="2892" dy="14.75">~ index10</tspan><tspan x="2892" dy="14.75">~ aniSpeed</tspan><tspan x="2892" dy="14.75">- state</tspan><tspan x="2892" dy="14.75">- towerAmmount</tspan><tspan x="2892" dy="14.75">- aniTick</tspan></text>
<text x="2892" y="2378.8"><tspan x="2892">+ TowerManager()</tspan><tspan x="2892" dy="14.75">+ update()</tspan><tspan x="2892" dy="14.75">+ attack()</tspan><tspan x="2892" dy="14.75">+ isInRange()</tspan><tspan x="2892" dy="14.75">+ addTower()</tspan><tspan x="2892" dy="14.75">+ towerLevelUp()</tspan><tspan x="2892" dy="14.75">+ removeTower()</tspan><tspan x="2892" dy="14.75">+ draw()</tspan><tspan x="2892" dy="14.75">+ getTowerImgs()</tspan><tspan x="2892" dy="14.75">+ getTowerAt()</tspan><tspan x="2892" dy="14.75">- loadTower()</tspan><tspan x="2892" dy="14.75">- drawTower()</tspan><tspan x="2892" dy="14.75">- updateAnimationTick()</tspan></text></g>

<g id="EnemyManager"><rect class="r" x="3304" y="2128.5" width="159" height="530.5"/><path class="sr" d="M3304,2154H3463M3304,2340.5H3463"/><text class="c" x="3383.5" y="2146">EnemyManager</text>
<text x="3315" y="2170.5"><tspan x="3315">~ index2</tspan><tspan x="3315" dy="14.75">~ index4</tspan><tspan x="3315" dy="14.75">~ index6</tspan><tspan x="3315" dy="14.75">~ index8</tspan><tspan x="3315" dy="14.75">~ aniSpeed</tspan><tspan x="3315" dy="14.75">~ startY</tspan><tspan x="3315" dy="14.75">~ endX</tspan><tspan x="3315" dy="14.75">~ endY</tspan><tspan x="3315" dy="14.75">- state</tspan><tspan x="3315" dy="14.75">- aniTick</tspan><tspan x="3315" dy="14.75">- startX</tspan><tspan x="3315" dy="14.75">- hpBarWidth</tspan></text>
<text x="3315" y="2357"><tspan x="3315">+ EnemyManager()</tspan><tspan x="3315" dy="14.75">+ setStartEnd()</tspan><tspan x="3315" dy="14.75">+ update()</tspan><tspan x="3315" dy="14.75">+ updateEnemyMove()</tspan><tspan x="3315" dy="14.75">+ fixTile()</tspan><tspan x="3315" dy="14.75">+ getSpeedWidth()</tspan><tspan x="3315" dy="14.75">+ getSpeedHeight()</tspan><tspan x="3315" dy="14.75">+ addEnemy()</tspan><tspan x="3315" dy="14.75">+ spawnEnemy()</tspan><tspan x="3315" dy="14.75">+ getEnemies()</tspan><tspan x="3315" dy="14.75">+ addCoin()</tspan><tspan x="3315" dy="14.75">+ draw()</tspan><tspan x="3315" dy="14.75">+ getEnemyRemaning()</tspan><tspan x="3315" dy="14.75">- loadEnemyImgs()</tspan><tspan x="3315" dy="14.75">- getTileType()</tspan><tspan x="3315" dy="14.75">- isEnd()</tspan><tspan x="3315" dy="14.75">- setDirection()</tspan><tspan x="3315" dy="14.75">- drawEnemy()</tspan><tspan x="3315" dy="14.75">- drawHpBar()</tspan><tspan x="3315" dy="14.75">- getNewBarWidth()</tspan><tspan x="3315" dy="14.75">- updateAnimationTick()</tspan></text></g>

<g id="PauseOverlay"><rect class="b" x="3692.5" y="2238.7" width="137.5" height="310.8"/><path class="sb" d="M3692.5,2264H3830M3692.5,2377H3830"/><text class="c" x="3761.25" y="2256.2">PauseOverlay</text>
<text x="3703" y="2280.5"><tspan x="3703">- bgX</tspan><tspan x="3703" dy="14.75">- bgY</tspan><tspan x="3703" dy="14.75">- bgW</tspan><tspan x="3703" dy="14.75">- bgH</tspan><tspan x="3703" dy="14.75">- buttonW</tspan><tspan x="3703" dy="14.75">- buttonH</tspan><tspan x="3703" dy="14.75">- state</tspan></text>
<text x="3703" y="2393.5"><tspan x="3703">+ PauseOverlay()</tspan><tspan x="3703" dy="14.75">+ update()</tspan><tspan x="3703" dy="14.75">+ draw()</tspan><tspan x="3703" dy="14.75">+ mouseMoved()</tspan><tspan x="3703" dy="14.75">+ mousePressed()</tspan><tspan x="3703" dy="14.75">+ mouseReleased()</tspan><tspan x="3703" dy="14.75">+ mouseDragged()</tspan><tspan x="3703" dy="14.75">+ isIn()</tspan><tspan x="3703" dy="14.75">+ resetBools()</tspan><tspan x="3703" dy="14.75">- loadBackground()</tspan><tspan x="3703" dy="14.75">- initSoundButtons()</tspan></text></g>

<g id="ThreadUpdate"><rect class="b" x="4008" y="2297" width="122.6" height="193"/><path class="sb" d="M4008,2322.7H4130.6M4008,2377H4130.6"/><text class="c" x="4069.3" y="2314.5">ThreadUpdate</text>
<text x="4019" y="2339.2"><tspan x="4019">- gameUpdate</tspan><tspan x="4019" dy="14.75">- whatupdate</tspan><tspan x="4019" dy="14.75">- UPS_SET</tspan></text>
<text x="4019" y="2393.5"><tspan x="4019">+ ThreadUpdate()</tspan><tspan x="4019" dy="14.75">+ run()</tspan><tspan x="4019" dy="14.75">+ updateCoin()</tspan><tspan x="4019" dy="14.75">- updateEnemy()</tspan><tspan x="4019" dy="14.75">- updateTower()</tspan><tspan x="4019" dy="14.75">- updateWave()</tspan><tspan x="4019" dy="14.75">- updateProj()</tspan></text></g>

<g id="Render"><rect class="b" x="4154.4" y="2348.6" width="82.6" height="90.4"/><path class="sb" d="M4154.4,2373.8H4237M4154.4,2399H4237"/><text class="c" x="4195.7" y="2366">Render</text>
<text x="4165" y="2415.5"><tspan x="4165">+ Render()</tspan><tspan x="4165" dy="14.75">+ render()</tspan></text></g>

<g id="MyMouseListener"><rect class="r" x="4721" y="2304.7" width="145" height="178.3"/><path class="sr" d="M4721,2330H4866M4721,2355.6H4866"/><text class="c" x="4793.5" y="2322">MyMouseListener</text>
<text x="4732" y="2372"><tspan x="4732">+ MyMouseListener()</tspan><tspan x="4732" dy="14.75">+ mouseClicked()</tspan><tspan x="4732" dy="14.75">+ mousePressed()</tspan><tspan x="4732" dy="14.75">+ mouseReleased()</tspan><tspan x="4732" dy="14.75">+ mouseEntered()</tspan><tspan x="4732" dy="14.75">+ mouseExited()</tspan><tspan x="4732" dy="14.75">+ mouseDragged()</tspan><tspan x="4732" dy="14.75">+ mouseMoved()</tspan></text></g>

<g id="KeyboardListener"><rect class="r" x="5214" y="2333.4" width="143" height="120.6"/><path class="sr" d="M5214,2359H5357M5214,2384.8H5357"/><text class="c" x="5285.5" y="2351">KeyboardListener</text>
<text x="5225" y="2401.3"><tspan x="5225">+ KeyboardListener()</tspan><tspan x="5225" dy="14.75">+ keyTyped()</tspan><tspan x="5225" dy="14.75">+ keyPressed()</tspan><tspan x="5225" dy="14.75">+ keyReleased()</tspan></text></g>

<g id="GameScreen"><rect class="b" x="5144" y="2929" width="136" height="119"/><path class="sb" d="M5144,2953.5H5280M5144,2978.7H5280"/><text class="c" x="5212" y="2946.5">GameScreen</text>
<text x="5155" y="2995"><tspan x="5155">+ GameScreen()</tspan><tspan x="5155" dy="14.75">+ initImputs()</tspan><tspan x="5155" dy="14.75">+ paintComponent()</tspan><tspan x="5155" dy="14.75">- setPanelSize()</tspan></text></g>

<g id="GameScene"><rect class="b" x="1535" y="2345" width="115" height="88"/><path class="sb" d="M1535,2370H1650M1535,2395H1650"/><text class="c" x="1592.5" y="2362.5">GameScene</text>
<text x="1546" y="2411.5"><tspan x="1546">+ GameScene()</tspan><tspan x="1546" dy="14.75">+ getGame()</tspan></text></g>

<g id="Menu"><rect class="b" x="135" y="2870" width="135" height="237.3"/><path class="sb" d="M135,2895H270M135,2920.3H270"/><text class="c" x="202.5" y="2887.5">Menu</text>
<text x="146" y="2937"><tspan x="146">+ Menu()</tspan><tspan x="146" dy="14.75">+ updates()</tspan><tspan x="146" dy="14.75">+ render()</tspan><tspan x="146" dy="14.75">+ mouseClicked()</tspan><tspan x="146" dy="14.75">+ mouseMoved()</tspan><tspan x="146" dy="14.75">+ mousePressed()</tspan><tspan x="146" dy="14.75">+ mouseReleased()</tspan><tspan x="146" dy="14.75">+ resetButtons()</tspan><tspan x="146" dy="14.75">+ mouseDragged()</tspan><tspan x="146" dy="14.75">- initButtons()</tspan><tspan x="146" dy="14.75">- drawButton()</tspan><tspan x="146" dy="14.75">- importImg()</tspan></text></g>

<g id="Playing"><rect class="b" x="439" y="2855.3" width="135" height="266.7"/><path class="sb" d="M439,2880.7H574M439,2906H574"/><text class="c" x="506.5" y="2873">Playing</text>
<text x="450" y="2922.5"><tspan x="450">+ Playing()</tspan><tspan x="450" dy="14.75">+ initClasses()</tspan><tspan x="450" dy="14.75">+ updates()</tspan><tspan x="450" dy="14.75">+ render()</tspan><tspan x="450" dy="14.75">+ getTileManager()</tspan><tspan x="450" dy="14.75">+ mouseClicked()</tspan><tspan x="450" dy="14.75">+ mouseMoved()</tspan><tspan x="450" dy="14.75">+ mousePressed()</tspan><tspan x="450" dy="14.75">+ mouseReleased()</tspan><tspan x="450" dy="14.75">+ mouseDragged()</tspan><tspan x="450" dy="14.75">+ getLevelMenu()</tspan><tspan x="450" dy="14.75">- impImage()</tspan><tspan x="450" dy="14.75">- initButtons()</tspan><tspan x="450" dy="14.75">- resetButtons()</tspan></text></g>

<g id="Level2"><rect class="b" x="1312" y="2723.6" width="151" height="530"/><path class="sb" d="M1312,2748H1463M1312,2876.4H1463"/><text class="c" x="1387.5" y="2741">Level2</text>
<text x="1323" y="2764.5"><tspan x="1323">- LEVELNAME</tspan><tspan x="1323" dy="14.75">- lvl</tspan><tspan x="1323" dy="14.75">- mouseX</tspan><tspan x="1323" dy="14.75">- mouseY</tspan><tspan x="1323" dy="14.75">- paused</tspan><tspan x="1323" dy="14.75">- coinTick</tspan><tspan x="1323" dy="14.75">- gameover</tspan><tspan x="1323" dy="14.75">- win</tspan></text>
<text x="1323" y="2893"><tspan x="1323">+ Level2()</tspan><tspan x="1323" dy="14.75">+ initClasses()</tspan><tspan x="1323" dy="14.75">+ loadLevel()</tspan><tspan x="1323" dy="14.75">+ setLevel()</tspan><tspan x="1323" dy="14.75">+ updateEnemy()</tspan><tspan x="1323" dy="14.75">+ updateTower()</tspan><tspan x="1323" dy="14.75">+ updateWave()</tspan><tspan x="1323" dy="14.75">+ updateProj()</tspan><tspan x="1323" dy="14.75">+ updateCoin()</tspan><tspan x="1323" dy="14.75">+ render()</tspan><tspan x="1323" dy="14.75">and 19 more...</tspan><tspan x="1323" dy="14.75">- impImage()</tspan><tspan x="1323" dy="14.75">- initButtons()</tspan><tspan x="1323" dy="14.75">- isEnemySpawn()</tspan><tspan x="1323" dy="14.75">- spawnEnemy()</tspan><tspan x="1323" dy="14.75">- isAllDead()</tspan><tspan x="1323" dy="14.75">- isMoreWaves()</tspan><tspan x="1323" dy="14.75">- isTimerOver()</tspan><tspan x="1323" dy="14.75">- drawBackground()</tspan><tspan x="1323" dy="14.75">- drawTileOver()</tspan><tspan x="1323" dy="14.75">- drawButton()</tspan><tspan x="1323" dy="14.75">- getTowerAt()</tspan><tspan x="1323" dy="14.75">- isTileAvailable()</tspan><tspan x="1323" dy="14.75">- resetButtons()</tspan><tspan x="1323" dy="14.75">- drawSelectedTower()</tspan></text></g>

<g id="Level3"><rect class="b" x="1630" y="2723.6" width="151" height="530"/><path class="sb" d="M1630,2748H1781M1630,2876.4H1781"/><text class="c" x="1705.5" y="2741">Level3</text>
<text x="1641" y="2764.5"><tspan x="1641">- LEVELNAME</tspan><tspan x="1641" dy="14.75">- lvl</tspan><tspan x="1641" dy="14.75">- mouseX</tspan><tspan x="1641" dy="14.75">- mouseY</tspan><tspan x="1641" dy="14.75">- paused</tspan><tspan x="1641" dy="14.75">- coinTick</tspan><tspan x="1641" dy="14.75">- gameover</tspan><tspan x="1641" dy="14.75">- win</tspan></text>
<text x="1641" y="2893"><tspan x="1641">+ Level3()</tspan><tspan x="1641" dy="14.75">+ initClasses()</tspan><tspan x="1641" dy="14.75">+ loadLevel()</tspan><tspan x="1641" dy="14.75">+ setLevel()</tspan><tspan x="1641" dy="14.75">+ updateEnemy()</tspan><tspan x="1641" dy="14.75">+ updateTower()</tspan><tspan x="1641" dy="14.75">+ updateWave()</tspan><tspan x="1641" dy="14.75">+ updateProj()</tspan><tspan x="1641" dy="14.75">+ updateCoin()</tspan><tspan x="1641" dy="14.75">+ render()</tspan><tspan x="1641" dy="14.75">and 19 more...</tspan><tspan x="1641" dy="14.75">- impImage()</tspan><tspan x="1641" dy="14.75">- initButtons()</tspan><tspan x="1641" dy="14.75">- isEnemySpawn()</tspan><tspan x="1641" dy="14.75">- spawnEnemy()</tspan><tspan x="1641" dy="14.75">- isAllDead()</tspan><tspan x="1641" dy="14.75">- isMoreWaves()</tspan><tspan x="1641" dy="14.75">- isTimerOver()</tspan><tspan x="1641" dy="14.75">- drawBackground()</tspan><tspan x="1641" dy="14.75">- drawTileOver()</tspan><tspan x="1641" dy="14.75">- drawButton()</tspan><tspan x="1641" dy="14.75">- getTowerAt()</tspan><tspan x="1641" dy="14.75">- isTileAvailable()</tspan><tspan x="1641" dy="14.75">- resetButtons()</tspan><tspan x="1641" dy="14.75">- drawSelectedTower()</tspan></text></g>

<g id="Level4"><rect class="b" x="3172" y="2723.6" width="151" height="530"/><path class="sb" d="M3172,2748H3323M3172,2876.4H3323"/><text class="c" x="3247.5" y="2741">Level4</text>
<text x="3183" y="2764.5"><tspan x="3183">- LEVELNAME</tspan><tspan x="3183" dy="14.75">- lvl</tspan><tspan x="3183" dy="14.75">- mouseX</tspan><tspan x="3183" dy="14.75">- mouseY</tspan><tspan x="3183" dy="14.75">- paused</tspan><tspan x="3183" dy="14.75">- coinTick</tspan><tspan x="3183" dy="14.75">- gameover</tspan><tspan x="3183" dy="14.75">- win</tspan></text>
<text x="3183" y="2893"><tspan x="3183">+ Level4()</tspan><tspan x="3183" dy="14.75">+ initClasses()</tspan><tspan x="3183" dy="14.75">+ loadLevel()</tspan><tspan x="3183" dy="14.75">+ setLevel()</tspan><tspan x="3183" dy="14.75">+ updateEnemy()</tspan><tspan x="3183" dy="14.75">+ updateTower()</tspan><tspan x="3183" dy="14.75">+ updateWave()</tspan><tspan x="3183" dy="14.75">+ updateProj()</tspan><tspan x="3183" dy="14.75">+ updateCoin()</tspan><tspan x="3183" dy="14.75">+ render()</tspan><tspan x="3183" dy="14.75">and 19 more...</tspan><tspan x="3183" dy="14.75">- impImage()</tspan><tspan x="3183" dy="14.75">- initButtons()</tspan><tspan x="3183" dy="14.75">- isEnemySpawn()</tspan><tspan x="3183" dy="14.75">- spawnEnemy()</tspan><tspan x="3183" dy="14.75">- isAllDead()</tspan><tspan x="3183" dy="14.75">- isMoreWaves()</tspan><tspan x="3183" dy="14.75">- isTimerOver()</tspan><tspan x="3183" dy="14.75">- drawBackground()</tspan><tspan x="3183" dy="14.75">- drawTileOver()</tspan><tspan x="3183" dy="14.75">- drawButton()</tspan><tspan x="3183" dy="14.75">- getTowerAt()</tspan><tspan x="3183" dy="14.75">- isTileAvailable()</tspan><tspan x="3183" dy="14.75">- resetButtons()</tspan><tspan x="3183" dy="14.75">- drawSelectedTower()</tspan></text></g>

<g id="Level1"><rect class="b" x="4638" y="2723.6" width="150.5" height="530"/><path class="sb" d="M4638,2748H4788.5M4638,2876.4H4788.5"/><text class="c" x="4713.2" y="2741">Level1</text>
<text x="4649" y="2764.5"><tspan x="4649">- LEVELNAME</tspan><tspan x="4649" dy="14.75">- lvl</tspan><tspan x="4649" dy="14.75">- mouseX</tspan><tspan x="4649" dy="14.75">- mouseY</tspan><tspan x="4649" dy="14.75">- paused</tspan><tspan x="4649" dy="14.75">- coinTick</tspan><tspan x="4649" dy="14.75">- gameover</tspan><tspan x="4649" dy="14.75">- win</tspan></text>
<text x="4649" y="2893"><tspan x="4649">+ Level1()</tspan><tspan x="4649" dy="14.75">+ initClasses()</tspan><tspan x="4649" dy="14.75">+ loadLevel()</tspan><tspan x="4649" dy="14.75">+ setLevel()</tspan><tspan x="4649" dy="14.75">+ updateEnemy()</tspan><tspan x="4649" dy="14.75">+ updateTower()</tspan><tspan x="4649" dy="14.75">+ updateWave()</tspan><tspan x="4649" dy="14.75">+ updateProj()</tspan><tspan x="4649" dy="14.75">+ updateCoin()</tspan><tspan x="4649" dy="14.75">+ render()</tspan><tspan x="4649" dy="14.75">and 19 more...</tspan><tspan x="4649" dy="14.75">- impImage()</tspan><tspan x="4649" dy="14.75">- initButtons()</tspan><tspan x="4649" dy="14.75">- isEnemySpawn()</tspan><tspan x="4649" dy="14.75">- spawnEnemy()</tspan><tspan x="4649" dy="14.75">- isAllDead()</tspan><tspan x="4649" dy="14.75">- isMoreWaves()</tspan><tspan x="4649" dy="14.75">- isTimerOver()</tspan><tspan x="4649" dy="14.75">- drawBackground()</tspan><tspan x="4649" dy="14.75">- drawTileOver()</tspan><tspan x="4649" dy="14.75">- drawButton()</tspan><tspan x="4649" dy="14.75">- getTowerAt()</tspan><tspan x="4649" dy="14.75">- isTileAvailable()</tspan><tspan x="4649" dy="14.75">- resetButtons()</tspan><tspan x="4649" dy="14.75">- drawSelectedTower()</tspan></text></g>
</g>
</svg>
